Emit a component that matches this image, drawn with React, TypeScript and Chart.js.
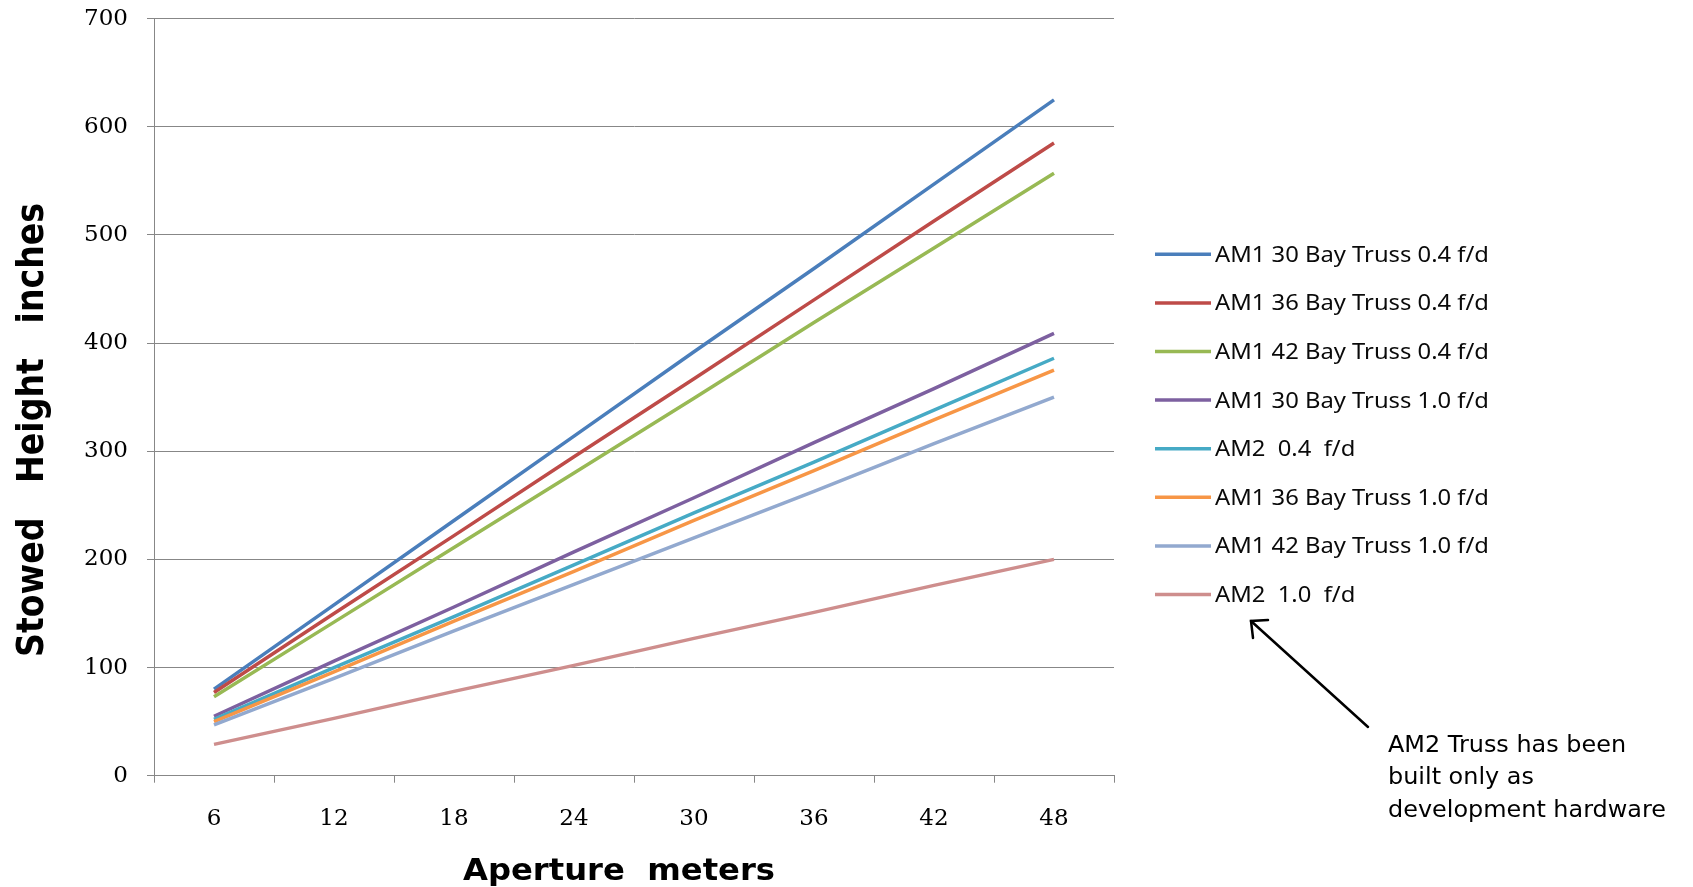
import { useEffect, useRef } from "react";
import { Chart, registerables } from "chart.js";

Chart.register(...registerables);

// ---- data ----
const apertures = ["6", "12", "18", "24", "30", "36", "42", "48"];

const seriesLabels = [
  "AM1 30 Bay Truss 0.4 f/d",
  "AM1 36 Bay Truss 0.4 f/d",
  "AM1 42 Bay Truss 0.4 f/d",
  "AM1 30 Bay Truss 1.0 f/d",
  "AM2  0.4  f/d",
  "AM1 36 Bay Truss 1.0 f/d",
  "AM1 42 Bay Truss 1.0 f/d",
  "AM2  1.0  f/d",
];

const am1Bay30_04 = [80, 158, 236, 314, 392, 469, 547, 625];
const am1Bay36_04 = [77, 150, 222, 295, 367, 440, 513, 585];
const am1Bay42_04 = [73, 142, 211, 280, 349, 419, 488, 557];
const am1Bay30_10 = [55, 106, 156, 207, 257, 308, 358, 409];
const am2_04 = [52, 100, 147, 195, 243, 290, 338, 386];
const am1Bay36_10 = [50, 96, 143, 189, 236, 282, 329, 375];
const am1Bay42_10 = [47, 90, 134, 177, 220, 263, 307, 350];
const am2_10 = [29, 53, 78, 102, 127, 151, 176, 200];

const seriesValues = [
  am1Bay30_04,
  am1Bay36_04,
  am1Bay42_04,
  am1Bay30_10,
  am2_04,
  am1Bay36_10,
  am1Bay42_10,
  am2_10,
];

const seriesColors = [
  "#4A7EBB",
  "#BE4B48",
  "#98B954",
  "#7D60A0",
  "#46AAC5",
  "#F79646",
  "#92A9CF",
  "#CE8E8D",
];

const yMin = 0;
const yMax = 700;
const yStep = 100;

const xTitle = "Aperture  meters";
const yTitle = "Stowed   Height   inches";
const noteLines = ["AM2 Truss has been", "built only as", "development hardware"];

// ---- drawing helpers ----
function fittedText(
  ctx: CanvasRenderingContext2D,
  text: string,
  font: string,
  targetWidth: number
) {
  ctx.font = font;
  const w = ctx.measureText(text).width;
  return w > 0 ? targetWidth / w : 1;
}

const overlayPlugin = {
  id: "overlay",
  afterDraw(chart: any) {
    const ctx: CanvasRenderingContext2D = chart.ctx;
    ctx.save();
    ctx.fillStyle = "#000";
    ctx.textBaseline = "alphabetic";

    // legend
    const legendFont = "21px 'Noto Sans'";
    const lScale = fittedText(ctx, seriesLabels[0], legendFont, 274);
    chart.data.datasets.forEach((ds: any, i: number) => {
      const cy = 254.3 + i * 48.6;
      ctx.strokeStyle = ds.borderColor;
      ctx.lineWidth = 3.5;
      ctx.beginPath();
      ctx.moveTo(1155, cy);
      ctx.lineTo(1211, cy);
      ctx.stroke();
      ctx.save();
      ctx.font = legendFont;
      ctx.fillStyle = "#0a0a0a";
      ctx.textAlign = "left";
      ctx.translate(1215, cy + 7.5);
      ctx.scale(lScale, 1);
      ctx.fillText(ds.label, 0, 0);
      ctx.restore();
    });

    // x title
    const xFont = "bold 30px 'DejaVu Sans'";
    const xs = fittedText(ctx, xTitle, xFont, 312);
    ctx.save();
    ctx.font = xFont;
    ctx.textAlign = "center";
    ctx.translate(619, 880);
    ctx.scale(xs, 1);
    ctx.fillText(xTitle, 0, 0);
    ctx.restore();

    // y title
    const yFont = "bold 38px 'DejaVu Sans'";
    const ys = fittedText(ctx, yTitle, yFont, 454);
    ctx.save();
    ctx.font = yFont;
    ctx.textAlign = "center";
    ctx.translate(43, 430);
    ctx.rotate(-Math.PI / 2);
    ctx.scale(ys, 1);
    ctx.fillText(yTitle, 0, 0);
    ctx.restore();

    // note
    const nFont = "23.5px 'DejaVu Sans'";
    const ns = fittedText(ctx, noteLines[2], nFont, 278);
    noteLines.forEach((line, i) => {
      ctx.save();
      ctx.font = nFont;
      ctx.textAlign = "left";
      ctx.translate(1388, 751.7 + i * 32.6);
      ctx.scale(ns, 1);
      ctx.fillText(line, 0, 0);
      ctx.restore();
    });

    // arrow
    ctx.strokeStyle = "#000";
    ctx.lineWidth = 2.5;
    ctx.lineCap = "round";
    ctx.beginPath();
    ctx.moveTo(1368, 727);
    ctx.lineTo(1251, 621);
    ctx.stroke();
    ctx.beginPath();
    ctx.moveTo(1253, 638);
    ctx.lineTo(1251, 621);
    ctx.lineTo(1268, 620);
    ctx.stroke();

    ctx.restore();
  },
};

export default function App() {
  const ref = useRef<HTMLCanvasElement | null>(null);

  useEffect(() => {
    document.body.style.margin = "0";
    document.body.style.background = "#fff";
    const canvas = ref.current;
    if (!canvas) return;
    const gridColor = "#878787";
    const tickFont = { family: "'DejaVu Serif'", size: 23 };
    const chart = new Chart(canvas, {
      type: "line",
      data: {
        labels: apertures,
        datasets: seriesValues.map((vals, i) => ({
          label: seriesLabels[i],
          data: vals,
          borderColor: seriesColors[i],
          backgroundColor: seriesColors[i],
          borderWidth: 3.5,
          pointRadius: 0,
          tension: 0,
          fill: false,
          order: seriesValues.length - i,
        })),
      },
      options: {
        animation: false,
        responsive: false,
        devicePixelRatio: 1,
        layout: { padding: { left: 0, right: 579, top: 18.7, bottom: 0 } },
        plugins: {
          legend: { display: false },
          tooltip: { enabled: false },
          title: { display: false },
        },
        scales: {
          x: {
            type: "category",
            offset: true,
            grid: {
              offset: true,
              drawOnChartArea: false,
              drawTicks: true,
              tickLength: 7,
              color: gridColor,
              lineWidth: 1,
            },
            border: { display: true, color: gridColor, width: 1 },
            ticks: {
              font: tickFont,
              color: "#000",
              padding: 23,
              maxRotation: 0,
              autoSkip: false,
            },
            afterFit: (s: any) => {
              s.height = 887 - 775.7;
              s.paddingLeft = 0;
              s.paddingRight = 0;
            },
          },
          y: {
            min: yMin,
            max: yMax,
            grid: {
              color: gridColor,
              lineWidth: 1,
              drawTicks: true,
              tickLength: 7,
            },
            border: { display: true, color: gridColor, width: 1 },
            ticks: {
              stepSize: yStep,
              font: tickFont,
              color: "#000",
              padding: 19,
            },
            afterFit: (s: any) => {
              s.width = 154;
              s.paddingTop = 0;
              s.paddingBottom = 0;
            },
          },
        },
      },
      plugins: [overlayPlugin],
    });
    return () => chart.destroy();
  }, []);

  return (
    <canvas
      ref={ref}
      width={1693}
      height={887}
      style={{ display: "block", width: "1693px", height: "887px" }}
    />
  );
}
